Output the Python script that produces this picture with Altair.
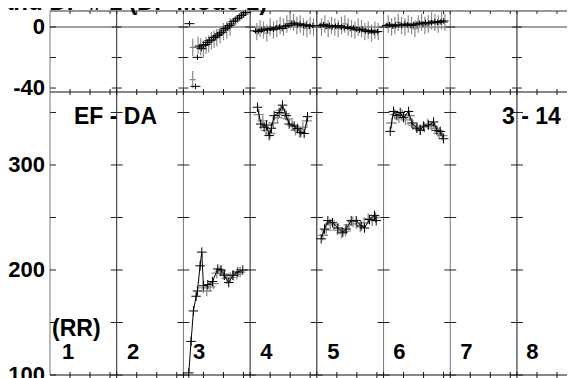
import altair as alt
import pandas as pd

# ---------------- data ----------------
title_text = "and DP # 1 (DP Mode 1)"

# top panel (deviation), black crosses
top_black_x = [2.09, 2.18, 2.21, 2.24, 2.27, 2.30, 2.33, 2.36, 2.39, 2.42, 2.45, 2.48, 2.51, 2.54,
               2.57, 2.60, 2.63, 2.66, 2.69, 2.72, 2.75, 2.78, 2.81, 2.84, 2.87, 2.90, 2.93,
               3.08, 3.12, 3.17, 3.21, 3.26, 3.30, 3.35, 3.39, 3.44, 3.48, 3.53, 3.57, 3.62, 3.66,
               3.71, 3.75, 3.80, 3.84, 3.89, 3.94,
               4.05, 4.10, 4.14, 4.19, 4.23, 4.28, 4.32, 4.37, 4.41, 4.46, 4.50, 4.55, 4.59, 4.64,
               4.68, 4.73, 4.77, 4.82, 4.86, 4.91,
               5.05, 5.09, 5.14, 5.18, 5.23, 5.27, 5.32, 5.36, 5.41, 5.45, 5.50, 5.54, 5.59, 5.63,
               5.68, 5.72, 5.77, 5.81, 5.86, 5.90]
top_black_y = [2.2, -38.9, -19.9, -13, -14, -12, -11.5, -10, -9, -8.5, -7, -6.5, -5.5, -4.5,
               -3.5, -2, -1, 0, 1, 2, 3.5, 4.5, 5.5, 6.5, 7.5, 8.5, 9.5,
               -2.5, -3, -2, -1.5, -2, -1, -1.5, -0.5, 0, -1, 0.5, 1, 2, 2.5,
               1.5, 2, 1, 1.5, 0.5, 1,
               1, 1.5, 0.5, 1, 0, 0.5, 1, 0, -0.5, 0, -1, -0.5, -1.5, -2,
               -1.5, -2.5, -3, -2.5, -3.5, -3,
               1, 1.5, 0.5, 1, 1.5, 1, 2, 1.5, 1, 1.5, 2, 2.5, 2, 3,
               2.5, 3, 3.5, 3, 3.5, 4]

# top panel, gray crosses
top_gray_x = [2.14, 2.14, 2.22, 2.26, 2.30, 2.34, 2.38, 2.42, 2.46, 2.50, 2.55, 2.60, 2.65, 2.70,
              3.10, 3.15, 3.20, 3.25, 3.30, 3.35, 3.40, 3.45, 3.50, 3.55, 3.60, 3.65, 3.70, 3.75,
              3.80, 3.85, 3.90, 3.95,
              4.07, 4.12, 4.17, 4.22, 4.27, 4.32, 4.37, 4.42, 4.47, 4.52, 4.57, 4.62, 4.67, 4.72,
              4.77, 4.82, 4.87, 4.92,
              5.07, 5.12, 5.17, 5.22, 5.27, 5.32, 5.37, 5.42, 5.47, 5.52, 5.57, 5.62, 5.67, 5.72,
              5.77, 5.82, 5.87, 5.92]
top_gray_y = [-13.3, -34.5, -12, -13, -14.5, -12, -11, -9, -8, -7, -5, -3, -2, 0,
              -3, -1, -2, -4, 0, -2, -1, 1, 0, 2, 4, 3, 1, 2,
              0, -1, 1, 0,
              0, 2, -1, 1, 0, -1, 1, 2, 0, -1, -2, 0, -1, -3,
              -2, -4, -2, -3,
              2, 0, 1, 3, 1, 0, 2, 1, -1, 2, 3, 1, 2, 4,
              3, 2, 4, 3]

# bottom panel (RR), black crosses joined by a line, per column
bot_black_col = [3] * 17 + [4] * 16 + [5] * 14 + [6] * 15
bot_black_x = [2.08, 2.115, 2.15, 2.19, 2.21, 2.25, 2.275, 2.30, 2.365, 2.435, 2.515, 2.565, 2.615,
               2.68, 2.74, 2.815, 2.89,
               3.11, 3.16, 3.21, 3.245, 3.285, 3.32, 3.36, 3.435, 3.485, 3.54, 3.585, 3.66, 3.71,
               3.76, 3.81, 3.86,
               4.065, 4.115, 4.165, 4.235, 4.315, 4.39, 4.44, 4.515, 4.59, 4.665, 4.715, 4.79,
               4.865, 4.89,
               5.10, 5.15, 5.20, 5.25, 5.30, 5.375, 5.425, 5.50, 5.55, 5.60, 5.675, 5.75, 5.80,
               5.85, 5.90]
bot_black_y = [102, 132, 161, 175, 180, 204, 217, 185, 186, 189, 201, 200, 195, 188, 195, 198, 200,
               355, 339, 336, 338, 328, 335, 347, 350, 357, 347, 339, 337, 334.6, 331, 330, 346,
               229.7, 239, 247, 245, 240, 236, 239, 247, 247, 242, 240, 248, 252, 247,
               332, 351, 347, 350, 345, 351, 340, 335, 333, 337, 338, 341, 333, 332, 325]

# bottom panel, gray crosses
bot_gray_x = [2.30, 2.35, 2.40, 2.45, 2.50, 2.55, 2.60, 2.65, 2.70, 2.75, 2.80, 2.85,
              3.13, 3.19, 3.24, 3.30, 3.35, 3.41, 3.46, 3.52, 3.57, 3.63, 3.68, 3.74, 3.79, 3.85,
              4.09, 4.14, 4.20, 4.26, 4.31, 4.37, 4.43, 4.48, 4.54, 4.60, 4.65, 4.71, 4.77, 4.83, 4.88,
              5.12, 5.17, 5.23, 5.28, 5.33, 5.39, 5.44, 5.50, 5.55, 5.61, 5.66, 5.72, 5.77, 5.83, 5.88]
bot_gray_y = [183, 180, 184, 187, 197, 199, 196, 192, 193, 195, 196, 198,
              348, 342, 333, 330, 340, 345, 352, 349, 344, 338, 333, 331, 336, 342,
              233, 238, 244, 243, 238, 235, 237, 243, 246, 244, 241, 245, 249, 247, 250,
              340, 348, 345, 348, 343, 347, 338, 336, 334, 336, 339, 337, 335, 330, 328]

# annotations
note_text = ["EF - DA", "3 - 14", "(RR)"]
note_x = [0.36, 6.775, 0.03]
note_y = [345.7, 345.7, 143.5]
col_labels = ["1", "2", "3", "4", "5", "6", "7", "8"]
col_label_x = [0.18, 1.155, 2.145, 3.15, 4.155, 5.145, 6.15, 7.14]
col_label_y = 122.0

boundaries = [1, 2, 3, 4, 5, 6, 7]
boundary_color = ["#222222", "#777777", "#222222", "#111111", "#777777", "#777777", "#111111"]
top_tick_vals = [-40, -20, 0]
bot_tick_vals = [350, 300, 250, 200, 150, 100]
top_labels = [-40, 0]
bot_labels = [100, 200, 300]

# ---------------- layout ----------------
W, H = 517, 364
TOP_H = 81
FONT = "Liberation Sans"
X_MAX = 7.75
TOP_LO, TOP_HI = -42.6, 10.5
BOT_LO, BOT_HI = 100, 369.5

xs = alt.Scale(domain=[0, X_MAX], nice=False, zero=False)
ys_top = alt.Scale(domain=[TOP_LO, TOP_HI], range=[TOP_H, 0], nice=False, zero=False)
ys_bot = alt.Scale(domain=[BOT_LO, BOT_HI], range=[H, TOP_H], nice=False, zero=False)

CROSS = "M-1,0L1,0M0,-1L0,1"
DASH_CROSS = "M-1,0L1,0M0,-0.55L0,0.55"
TALL_CROSS = "M-0.35,0L0.35,0M0,-1L0,1"

df_top_black = pd.DataFrame({"x": top_black_x, "y": top_black_y})
df_top_gray = pd.DataFrame({"x": top_gray_x, "y": top_gray_y})
df_bot_black = pd.DataFrame({"x": bot_black_x, "y": bot_black_y, "col": bot_black_col})
df_bot_gray = pd.DataFrame({"x": bot_gray_x, "y": bot_gray_y})
df_notes = pd.DataFrame({"x": note_x, "y": note_y, "t": note_text})
df_cols = pd.DataFrame({"x": col_label_x, "y": [col_label_y] * 8, "t": col_labels})
df_bounds = pd.DataFrame({"x": boundaries, "c": boundary_color})

x_ticks = []
for k in range(8):
    for f in (0.3, 0.6, 0.9):
        if k + f < X_MAX:
            x_ticks.append(k + f)
x_ticks += boundaries


def X():
    return alt.X("x:Q", scale=xs, axis=None)


def label_layer(values, scale):
    return alt.Chart(pd.DataFrame({"x": [0] * len(values), "y": values,
                                   "t": [str(v) for v in values]})).mark_text(
        align="right", baseline="middle", dx=-5, font=FONT, fontSize=22, fontWeight="bold",
        color="#000000").encode(x=X(), y=alt.Y("y:Q", scale=scale, axis=None), text="t:N")


# ----- top group -----
def yt():
    return alt.Y("y:Q", scale=ys_top, axis=None)


top_lines = alt.Chart(pd.DataFrame({"y": [0, TOP_HI, TOP_LO],
                                    "c": ["#444444", "#333333", "#111111"]})).mark_rule(
    strokeWidth=1).encode(y=yt(), color=alt.Color("c:N", scale=None))
top_left_ticks = alt.Chart(pd.DataFrame({"x": [0] * 3, "y": top_tick_vals})).mark_rule(
    x2Offset=6, color="#222222").encode(x=X(), x2="x:Q", y=yt())
top_bound_ticks = alt.Chart(pd.DataFrame(
    [{"x": b, "y": v} for b in boundaries for v in top_tick_vals])).mark_rule(
    xOffset=-5, x2Offset=5, color="#222222").encode(x=X(), x2="x:Q", y=yt())
top_border_ticks = alt.Chart(pd.DataFrame({"x": x_ticks, "y": [TOP_HI] * len(x_ticks)})).mark_rule(
    y2Offset=3, color="#222222").encode(x=X(), y=yt(), y2="y:Q")
mid_ticks = alt.Chart(pd.DataFrame({"x": x_ticks, "y": [TOP_LO] * len(x_ticks)})).mark_rule(
    yOffset=-3, y2Offset=3, color="#111111").encode(x=X(), y=yt(), y2="y:Q")
top_gray = alt.Chart(df_top_gray).mark_point(shape=TALL_CROSS, size=300, strokeWidth=1.2,
                                             color="#8a8a8a", opacity=1).encode(x=X(), y=yt())
top_black = alt.Chart(df_top_black).mark_point(shape=DASH_CROSS, size=100, strokeWidth=1,
                                               color="#000000", opacity=1).encode(x=X(), y=yt())
title_mark = alt.Chart(pd.DataFrame({"t": [title_text]})).mark_text(
    align="left", baseline="alphabetic", font=FONT, fontSize=24, fontWeight="bold", color="#000000"
).encode(x=alt.value(-50), y=alt.value(-1), text="t:N")

top_group = alt.layer(top_lines, top_left_ticks, top_bound_ticks, top_border_ticks, mid_ticks,
                      top_gray, top_black, label_layer(top_labels, ys_top), title_mark)


# ----- bottom group -----
def yb():
    return alt.Y("y:Q", scale=ys_bot, axis=None)


bottom_line = alt.Chart(pd.DataFrame({"y": [BOT_LO]})).mark_rule(color="#111111").encode(y=yb())
bot_left_ticks = alt.Chart(pd.DataFrame({"x": [0] * 6, "y": bot_tick_vals})).mark_rule(
    x2Offset=6, color="#222222").encode(x=X(), x2="x:Q", y=yb())
bot_bound_ticks = alt.Chart(pd.DataFrame(
    [{"x": b, "y": v} for b in boundaries for v in bot_tick_vals])).mark_rule(
    xOffset=-6, x2Offset=6, color="#222222").encode(x=X(), x2="x:Q", y=yb())
bot_border_ticks = alt.Chart(pd.DataFrame({"x": x_ticks, "y": [BOT_LO] * len(x_ticks)})).mark_rule(
    yOffset=-3, y2Offset=3, color="#111111").encode(x=X(), y=yb(), y2="y:Q")
bot_gray = alt.Chart(df_bot_gray).mark_point(shape=CROSS, size=110, strokeWidth=1.3,
                                             color="#8a8a8a", opacity=1).encode(x=X(), y=yb())
bot_line = alt.Chart(df_bot_black).mark_line(color="#000000", strokeWidth=1).encode(
    x=X(), y=yb(), detail="col:N", order="x:Q")
bot_black = alt.Chart(df_bot_black).mark_point(shape=CROSS, size=90, strokeWidth=1,
                                               color="#000000", opacity=1).encode(x=X(), y=yb())
notes = alt.Chart(df_notes).mark_text(align="left", baseline="middle", font=FONT, fontSize=23,
                                      fontWeight="bold", color="#000000").encode(
    x=X(), y=yb(), text="t:N")
cols = alt.Chart(df_cols).mark_text(align="left", baseline="middle", font=FONT, fontSize=22,
                                    fontWeight="bold", color="#000000").encode(
    x=X(), y=yb(), text="t:N")

bottom_group = alt.layer(bottom_line, bot_left_ticks, bot_bound_ticks, bot_border_ticks,
                         bot_gray, bot_line, bot_black, notes, cols, label_layer(bot_labels, ys_bot))

# ----- vertical frame lines (shared x) -----
vlines = alt.Chart(df_bounds).mark_rule(strokeWidth=1).encode(
    x=X(), color=alt.Color("c:N", scale=None))
left_border = alt.Chart(pd.DataFrame({"x": [0]})).mark_rule(color="#777777").encode(x=X())

chart = alt.layer(vlines, left_border, top_group, bottom_group).resolve_scale(
    y="independent").properties(
    width=W, height=H,
    autosize=alt.AutoSizeParams(type="none"),
    padding={"left": 42, "top": 3, "right": 0, "bottom": 3},
).configure_view(stroke=None)

chart.save("out.html", embed_options={"renderer": "svg", "actions": False})
